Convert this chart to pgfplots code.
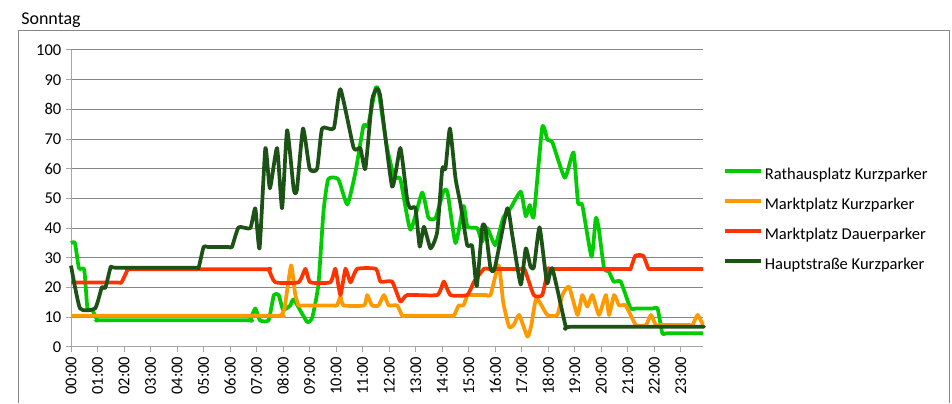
\documentclass[border=0pt]{standalone}
\usepackage{fontspec}
\setmainfont{Carlito}
\usepackage{pgfplots}
\pgfplotsset{compat=1.18}
\definecolor{cgreen}{RGB}{0,204,0}
\definecolor{corange}{RGB}{255,153,0}
\definecolor{cred}{RGB}{255,51,0}
\definecolor{cdark}{RGB}{28,82,22}
\definecolor{cgrid}{RGB}{134,134,134}
\definecolor{caxis}{RGB}{166,166,166}
\begin{document}
\begin{tikzpicture}[x=0.75pt,y=0.75pt]
\path[use as bounding box] (0,0) rectangle (952,403);
\draw[cgrid, line width=0.75pt] (18,0) -- (18,372) -- (949,372) -- (949,0);
\node[anchor=base west, inner sep=0pt, font=\fontsize{13.5}{16}\selectfont] at (21,378) {Sonntag};
\coordinate (O) at (71,56);
\begin{axis}[at={(O)}, anchor=south west, scale only axis,
  width=474pt, height=222.75pt,
  xmin=0, xmax=23.8333, ymin=0, ymax=100,
  ytick={0,10,...,100}, xtick={0,1,...,23},
  xticklabels={00:00,01:00,02:00,03:00,04:00,05:00,06:00,07:00,08:00,09:00,10:00,11:00,12:00,13:00,14:00,15:00,16:00,17:00,18:00,19:00,20:00,21:00,22:00,23:00},
  axis x line*=bottom, axis y line*=left,
  axis line style={caxis, line width=0.75pt, -},
  ymajorgrids, major grid style={cgrid, line width=0.75pt},
  tick style={caxis, line width=0.75pt}, tick align=outside, major tick length=3.75pt,
  /pgf/number format/assume math mode=true,
  ticklabel style={font=\fontsize{12.4}{14}\selectfont, text=black},
  xticklabel style={rotate=90, anchor=east},
  every axis plot/.append style={line width=2.8pt, smooth, tension=0.3, line join=round},
  legend style={at={(1.025,0.614)}, anchor=north west, draw=none, fill=none,
    font=\fontsize{12.4}{14}\selectfont, row sep=10.5pt, column sep=1.5pt,
    nodes={inner sep=0pt, text height=9pt, text depth=3pt}},
  legend cell align=left,
  legend image code/.code={\draw[#1, line width=2.8pt] (0pt,3.3pt) -- (27pt,3.3pt);},
  clip=false
]
\addplot[cgreen] coordinates {(0,35)(0.15,35)(0.3,26.5)(0.5,26)(0.62,13)(0.8,12.5)(1.0,9)(1.2,9)(6.6,9)(6.75,9)(6.95,13)(7.12,9)(7.45,9)(7.65,17.5)(7.83,17.5)(8.0,12.5)(8.27,14)(8.4,16)(8.9,8.5)(9.1,10)(9.33,21)(9.52,45.5)(9.7,56.5)(10.08,56.5)(10.42,48)(10.73,59)(11.03,74.5)(11.2,74.5)(11.48,87)(11.6,86)(11.92,67)(12.2,57)(12.42,56.5)(12.8,39.5)(13.24,52)(13.48,43.5)(13.75,43.5)(14.05,52.5)(14.2,52)(14.5,35)(14.8,47.5)(14.95,40.5)(15.32,40)(15.5,35.5)(15.7,40)(16.0,34.3)(16.3,43.5)(16.58,46.8)(16.96,52.3)(17.15,44)(17.3,47.8)(17.45,44)(17.77,74)(17.97,69.7)(18.15,69)(18.62,57)(18.95,65.5)(19.12,48.5)(19.28,47.8)(19.63,30.4)(19.79,43.5)(19.9,40)(20.1,26.6)(20.28,25.4)(20.47,22)(20.73,22)(21.1,13)(21.3,13)(21.95,13)(22.12,13)(22.3,4.6)(22.45,4.6)(23.6,4.6)(23.8333,4.6)};
\addlegendentry{Rathausplatz Kurzparker}
\addplot[corange] coordinates {(0,10.5)(7.7,10.5)(7.9,10.5)(8.05,13)(8.3,27.5)(8.45,18)(8.58,14)(8.75,14)(9.85,14)(10.03,14)(10.16,17)(10.28,14)(11.05,14)(11.17,17.5)(11.35,14)(11.6,14)(11.8,17.5)(11.98,14)(12.3,14)(12.49,10.5)(12.65,10.5)(14.28,10.5)(14.44,10.5)(14.62,14)(14.8,14)(14.95,17.5)(15.1,17.5)(15.65,17.5)(15.82,17.5)(16.13,27.5)(16.3,15)(16.52,6.8)(16.7,7.5)(16.9,10.8)(17.21,3.5)(17.35,7)(17.55,16.4)(17.96,10.8)(18.34,10.8)(18.53,17.5)(18.78,20.3)(19.1,10.8)(19.28,17.5)(19.47,13.6)(19.66,17.5)(19.91,10.8)(20.17,17.5)(20.29,10.8)(20.48,17.5)(20.67,14)(20.92,14)(21.3,7.4)(21.68,7.4)(21.87,10.8)(22.05,7.4)(22.2,7.4)(23.3,7.4)(23.44,7.4)(23.63,10.8)(23.8333,7.4)};
\addlegendentry{Marktplatz Kurzparker}
\addplot[cred] coordinates {(0,21.7)(1.75,21.7)(1.9,21.7)(2.15,26.2)(2.3,26.2)(7.3,26.2)(7.45,26.2)(7.7,21.8)(8.58,21.8)(8.84,26.3)(9.02,21.8)(9.78,21.8)(9.97,26.3)(10.16,17.5)(10.35,26.3)(10.54,21.8)(10.79,26.3)(11.5,26.3)(11.67,22)(12.11,22)(12.42,15.3)(12.68,17.5)(13.81,17.5)(14.06,22)(14.31,17.5)(14.94,17.5)(15.2,22)(15.57,26.3)(15.75,26.3)(16.95,26.3)(17.1,26.3)(17.45,17.5)(17.77,17.5)(18.0,26.3)(18.15,26.3)(20.95,26.3)(21.1,26.3)(21.28,30.7)(21.58,30.7)(21.78,26.3)(21.95,26.3)(23.8333,26.3)};
\addlegendentry{Marktplatz Dauerparker}
\addplot[cdark] coordinates {(0,27.4)(0.34,13)(0.91,13)(1.16,20)(1.3,20)(1.5,27)(1.7,26.7)(4.65,26.7)(4.81,26.7)(5.0,33.7)(5.15,33.7)(5.92,33.7)(6.07,33.7)(6.32,40.3)(6.76,40)(6.95,46.7)(7.11,33.2)(7.33,67)(7.5,53.4)(7.77,67)(7.96,46.7)(8.15,73)(8.4,53)(8.52,53)(8.75,73.6)(9.0,60)(9.28,60)(9.47,73.6)(9.91,73.6)(10.16,86.8)(10.66,67)(10.91,67)(11.1,60)(11.35,83)(11.54,87)(11.67,84)(12.11,54)(12.42,67)(12.68,49.5)(12.8,46.7)(12.99,46.7)(13.15,33.8)(13.31,40.5)(13.56,33.2)(13.81,38.8)(14.0,60)(14.12,60)(14.29,73.6)(14.5,56.8)(14.69,48)(14.94,34.3)(15.13,34)(15.3,20.5)(15.51,40.5)(15.63,40)(15.82,26.5)(15.98,26.5)(16.45,46.7)(16.64,37.7)(16.96,21)(17.15,33.2)(17.33,27)(17.46,27)(17.67,40.3)(17.95,21.5)(18.15,26.5)(18.66,6.8)(18.85,6.8)(23.6,6.8)(23.8333,6.8)};
\addlegendentry{Hauptstraße Kurzparker}
\end{axis}
\end{tikzpicture}
\end{document}
